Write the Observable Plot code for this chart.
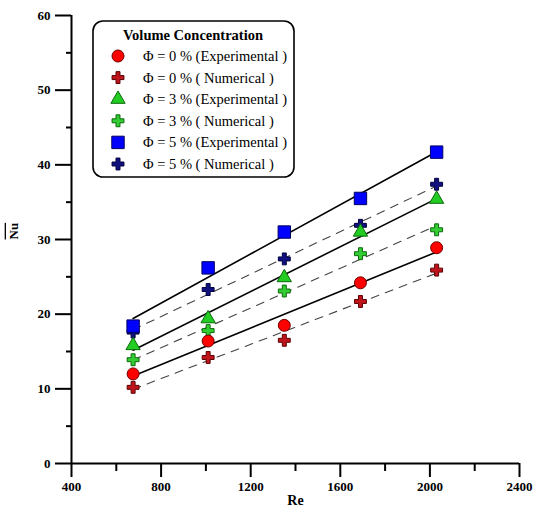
<!DOCTYPE html>
<html>
<head>
<meta charset="utf-8">
<script src="https://cdn.jsdelivr.net/npm/d3@7"></script>
<script src="https://cdn.jsdelivr.net/npm/@observablehq/plot@0.6"></script>
<style>
  body { margin: 0; background: #fff; }
  #chart { width: 534px; height: 520px; }
</style>
</head>
<body>
<div id="chart"></div>
<script>
// Reynolds numbers of the test runs
const re = [675, 1010, 1350, 1690, 2030];

// Average Nusselt number per volume concentration
const nuExp0 = [12.0, 16.4, 18.5, 24.2, 28.9];
const nuNum0 = [10.2, 14.2, 16.5, 21.7, 25.9];
const nuExp3 = [15.8, 19.4, 24.9, 31.0, 35.4];
const nuNum3 = [13.9, 17.8, 23.1, 28.1, 31.3];
const nuExp5 = [18.4, 26.2, 31.0, 35.5, 41.7];
const nuNum5 = [17.6, 23.3, 27.4, 31.9, 37.4];

const legendTitle = "Volume Concentration";
const seriesLabels = [
  "Φ = 0 % (Experimental )",
  "Φ = 0 % ( Numerical )",
  "Φ = 3 % (Experimental )",
  "Φ = 3 % ( Numerical )",
  "Φ = 5 % (Experimental )",
  "Φ = 5 % ( Numerical )"
];

const yTicks = [0, 10, 20, 30, 40, 50, 60];
const yMinor = [5, 15, 25, 35, 45, 55];
const xTicks = [400, 800, 1200, 1600, 2000, 2400];
const xMinor = [600, 1000, 1400, 1800, 2200];

// Marker style per series
const series = [
  {label: seriesLabels[0], values: nuExp0, kind: "exp", symbol: "circle",   fill: "#ff0000", stroke: "#6e0000", r: 6},
  {label: seriesLabels[1], values: nuNum0, kind: "num", symbol: "cross",    fill: "#c0141c", stroke: "#5a0000", r: 5},
  {label: seriesLabels[2], values: nuExp3, kind: "exp", symbol: "triangle", fill: "#22cc22", stroke: "#0a6a0a", r: 5.3},
  {label: seriesLabels[3], values: nuNum3, kind: "num", symbol: "cross",    fill: "#33cc33", stroke: "#0a6a0a", r: 5},
  {label: seriesLabels[4], values: nuExp5, kind: "exp", symbol: "square",   fill: "#0000ff", stroke: "#000060", r: 7},
  {label: seriesLabels[5], values: nuNum5, kind: "num", symbol: "cross",    fill: "#10107e", stroke: "#000040", r: 5}
];

const rowsOf = s => re.map((x, i) => ({re: x, nu: s.values[i], label: s.label}));
const expRows = series.filter(s => s.kind === "exp").flatMap(rowsOf);
const numRows = series.filter(s => s.kind === "num").flatMap(rowsOf);

const font = "'Liberation Serif', 'Times New Roman', serif";

const marks = [
  // fitted trend lines
  Plot.linearRegressionY(numRows, {x: "re", y: "nu", z: "label", ci: 0, stroke: "#444", strokeWidth: 1.1, strokeDasharray: "8,7"}),
  Plot.linearRegressionY(expRows, {x: "re", y: "nu", z: "label", ci: 0, stroke: "#000", strokeWidth: 1.6}),
  // axes
  Plot.ruleX([400], {stroke: "#000", strokeWidth: 2}),
  Plot.ruleY([0], {stroke: "#000", strokeWidth: 2}),
  Plot.axisY(yTicks, {tickSize: 16, tickPadding: 5, strokeWidth: 2, fontWeight: "bold", fontSize: 13, label: null}),
  Plot.axisY(yMinor, {tickSize: 5, text: null, strokeWidth: 2, label: null}),
  Plot.axisX(xTicks, {tickSize: 14, tickPadding: 4, strokeWidth: 2, fontWeight: "bold", fontSize: 13, label: null, tickFormat: d => String(d)}),
  Plot.axisX(xMinor, {tickSize: 8, text: null, strokeWidth: 2, label: null}),
  Plot.text(["Re"], {frameAnchor: "bottom", dy: 41, fontWeight: "bold", fontSize: 14}),
  Plot.text(["Nu"], {frameAnchor: "left", dx: -58, rotate: -90, fontWeight: "bold", fontSize: 13})
];

// numerical points first, experimental markers on top
for (const s of [...series.filter(s => s.kind === "num"), ...series.filter(s => s.kind === "exp")]) {
  marks.push(Plot.dot(rowsOf(s), {x: "re", y: "nu", symbol: s.symbol, r: s.r, fill: s.fill, stroke: s.stroke, strokeWidth: 1}));
}

const chart = Plot.plot({
  width: 534,
  height: 520,
  marginLeft: 71,
  marginRight: 15,
  marginTop: 15,
  marginBottom: 57,
  style: {fontFamily: font, color: "#000", background: "#fff"},
  x: {domain: [400, 2400]},
  y: {domain: [0, 60]},
  marks
});

const svg = d3.select(chart);
svg.selectAll("text").filter(function () { return this.textContent === "Nu"; })
  .attr("text-decoration", "overline");

// Legend box
const lg = svg.append("g").style("font-family", font).attr("fill", "#000").attr("text-anchor", "start");
lg.append("rect")
  .attr("x", 93).attr("y", 21).attr("width", 201).attr("height", 156)
  .attr("rx", 10).attr("fill", "#fff").attr("stroke", "#000").attr("stroke-width", 1.6);
lg.append("text")
  .attr("x", 193).attr("y", 40).attr("text-anchor", "middle")
  .attr("font-weight", "bold").attr("font-size", 14.5)
  .text(legendTitle);
const symbolMap = {circle: d3.symbolCircle, cross: d3.symbolCross, triangle: d3.symbolTriangle, square: d3.symbolSquare};
series.forEach((s, i) => {
  const cy = 56 + i * 21.6;
  lg.append("path")
    .attr("transform", `translate(118,${cy})`)
    .attr("d", d3.symbol(symbolMap[s.symbol], s.r * s.r * Math.PI)())
    .attr("fill", s.fill).attr("stroke", s.stroke).attr("stroke-width", 1);
  lg.append("text")
    .attr("x", 143).attr("y", cy + 5).attr("font-size", 14.5)
    .text(s.label);
});

document.getElementById("chart").append(chart);
</script>
</body>
</html>
